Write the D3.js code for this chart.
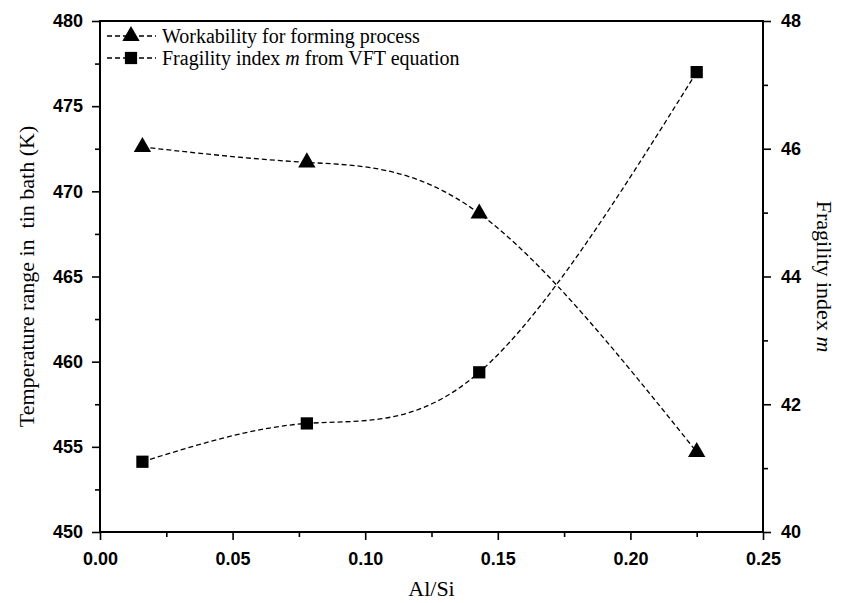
<!DOCTYPE html>
<html>
<head>
<meta charset="utf-8">
<script src="https://cdn.jsdelivr.net/npm/d3@7"></script>
<style>
  body { margin: 0; background: #fff; }
  svg { display: block; }
  .title { font-family: "Liberation Serif", "Times New Roman", serif; font-size: 22px; fill: #000; }
  .legend text { font-family: "Liberation Serif", "Times New Roman", serif; font-size: 20px; fill: #000; }
</style>
</head>
<body>
<div id="chart"></div>
<script>
// Al/Si ratio of the four glasses
const alSi = [0.016, 0.078, 0.143, 0.225];
// workability window in the tin bath (K), left axis
const workability = [472.6, 471.7, 468.7, 454.7];
// fragility index m from VFT, right axis
const fragility = [41.1, 41.7, 42.5, 47.2];

const xTicks = [0, 0.05, 0.1, 0.15, 0.2, 0.25];
const leftTicks = [450, 455, 460, 465, 470, 475, 480];
const rightTicks = [40, 42, 44, 46, 48];

const width = 841, height = 603;
const margin = { top: 21, right: 78, bottom: 71, left: 100 };

const svg = d3.select("#chart").append("svg")
  .attr("width", width)
  .attr("height", height);

const x = d3.scaleLinear().domain([0, 0.25]).range([margin.left, width - margin.right]);
const yL = d3.scaleLinear().domain([450, 480]).range([height - margin.bottom, margin.top]);
const yR = d3.scaleLinear().domain([40, 48]).range([height - margin.bottom, margin.top]);

// minor ticks first, so the major ones sit on top
svg.append("g")
  .attr("transform", `translate(0,${height - margin.bottom})`)
  .call(d3.axisBottom(x).tickValues(d3.range(0.025, 0.25, 0.05)).tickSize(5).tickFormat(""))
  .call((g) => g.select(".domain").remove());
svg.append("g")
  .attr("transform", `translate(${margin.left},0)`)
  .call(d3.axisLeft(yL).tickValues(d3.range(452.5, 480, 5)).tickSize(5).tickFormat(""))
  .call((g) => g.select(".domain").remove());
svg.append("g")
  .attr("transform", `translate(${width - margin.right},0)`)
  .call(d3.axisRight(yR).tickValues(d3.range(41, 48, 2)).tickSize(5).tickFormat(""))
  .call((g) => g.select(".domain").remove());

const xAxis = svg.append("g")
  .attr("transform", `translate(0,${height - margin.bottom})`)
  .call(d3.axisBottom(x).tickValues(xTicks).tickSize(8).tickPadding(12).tickFormat(d3.format(".2f")));

const leftAxis = svg.append("g")
  .attr("transform", `translate(${margin.left},0)`)
  .call(d3.axisLeft(yL).tickValues(leftTicks).tickSize(8).tickPadding(9));

const rightAxis = svg.append("g")
  .attr("transform", `translate(${width - margin.right},0)`)
  .call(d3.axisRight(yR).tickValues(rightTicks).tickSize(8).tickPadding(10));

[xAxis, leftAxis, rightAxis].forEach((g) => {
  g.select(".domain").remove();
  g.selectAll(".tick text")
    .style("font-family", "'Liberation Sans', Arial, sans-serif")
    .style("font-weight", "bold")
    .style("font-size", "18px")
    .attr("fill", "#000");
});
svg.selectAll(".tick line").attr("stroke", "#000").attr("stroke-width", 1.6);

// frame
svg.append("rect")
  .attr("x", margin.left)
  .attr("y", margin.top)
  .attr("width", width - margin.left - margin.right)
  .attr("height", height - margin.top - margin.bottom)
  .attr("fill", "none")
  .attr("stroke", "#000")
  .attr("stroke-width", 2);

// curves
const lineL = d3.line().x((d) => x(d[0])).y((d) => yL(d[1])).curve(d3.curveNatural);
const lineR = d3.line().x((d) => x(d[0])).y((d) => yR(d[1])).curve(d3.curveNatural);

const workPts = alSi.map((v, i) => [v, workability[i]]);
const fragPts = alSi.map((v, i) => [v, fragility[i]]);

svg.append("path")
  .attr("d", lineL(workPts))
  .attr("fill", "none")
  .attr("stroke", "#000")
  .attr("stroke-width", 1.3)
  .attr("stroke-dasharray", "5,3");

svg.append("path")
  .attr("d", lineR(fragPts))
  .attr("fill", "none")
  .attr("stroke", "#000")
  .attr("stroke-width", 1.3)
  .attr("stroke-dasharray", "5,3");

const tri = d3.symbol().type(d3.symbolTriangle).size(130);
const sq = d3.symbol().type(d3.symbolSquare).size(150);

svg.selectAll(".tri")
  .data(workPts)
  .join("path")
  .attr("class", "tri")
  .attr("d", tri)
  .attr("transform", (d) => `translate(${x(d[0])},${yL(d[1])})`)
  .attr("fill", "#000");

svg.selectAll(".sq")
  .data(fragPts)
  .join("path")
  .attr("class", "sq")
  .attr("d", sq)
  .attr("transform", (d) => `translate(${x(d[0])},${yR(d[1])})`)
  .attr("fill", "#000");

// legend
const legendItems = [
  { label: ["Workability for forming process"], symbol: tri, y: 36 },
  { label: ["Fragility index ", "m", " from VFT equation"], symbol: sq, y: 58 },
];
const legend = svg.append("g").attr("class", "legend");
legendItems.forEach((item) => {
  const g = legend.append("g").attr("transform", `translate(0,${item.y})`);
  g.append("line")
    .attr("x1", 107).attr("x2", 156)
    .attr("stroke", "#000").attr("stroke-width", 1.3)
    .attr("stroke-dasharray", "5,3");
  g.append("path").attr("d", item.symbol).attr("transform", "translate(131,0)").attr("fill", "#000");
  const t = g.append("text").attr("x", 162).attr("y", 7);
  item.label.forEach((s) => {
    t.append("tspan").text(s).attr("font-style", s === "m" ? "italic" : null);
  });
});

// axis titles
svg.append("text")
  .attr("class", "title")
  .attr("x", (margin.left + width - margin.right) / 2)
  .attr("y", 596)
  .attr("text-anchor", "middle")
  .text("Al/Si");

svg.append("text")
  .attr("class", "title")
  .attr("transform", `translate(34,${(margin.top + height - margin.bottom) / 2}) rotate(-90)`)
  .attr("text-anchor", "middle")
  .style("white-space", "pre")
  .text("Temperature range in  tin bath (K)");

const rt = svg.append("text")
  .attr("class", "title")
  .attr("transform", `translate(817,${(margin.top + height - margin.bottom) / 2}) rotate(90)`)
  .attr("text-anchor", "middle");
rt.append("tspan").text("Fragility index ");
rt.append("tspan").text("m").attr("font-style", "italic");
</script>
</body>
</html>
